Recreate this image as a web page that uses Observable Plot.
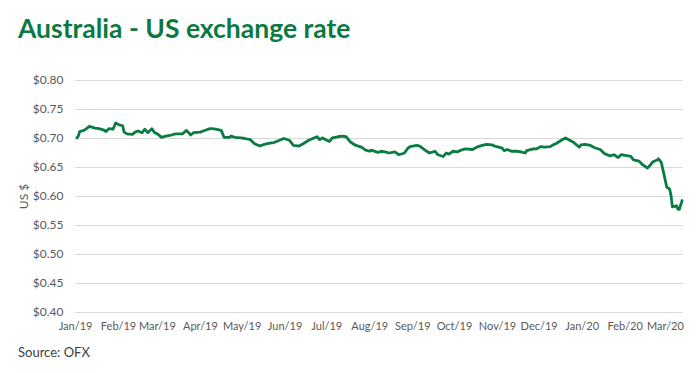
<!DOCTYPE html>
<html>
<head>
<meta charset="utf-8">
<script src="https://cdn.jsdelivr.net/npm/d3@7"></script>
<script src="https://cdn.jsdelivr.net/npm/@observablehq/plot@0.6"></script>
<style>
  html, body { margin: 0; padding: 0; background: #fff; }
  #wrap { position: relative; width: 700px; height: 373px; overflow: hidden; font-family: Lato, "Open Sans", sans-serif; }
  #title { position: absolute; left: 18px; top: 12px; font-size: 26.5px; font-weight: 700; color: #0b7a3f; white-space: nowrap; }
  #source { position: absolute; left: 18px; top: 344px; font-size: 13px; color: #404040; white-space: nowrap; }
  #chart { position: absolute; left: 0; top: 0; }
</style>
</head>
<body>
<div id="wrap">
  <div id="chart"></div>
  <div id="title">Australia - US exchange rate</div>
  <div id="source">Source: OFX</div>
</div>
<script>
const dates = [
  "2019-01-02","2019-01-03","2019-01-04","2019-01-07","2019-01-09","2019-01-11","2019-01-15","2019-01-18","2019-01-21","2019-01-23",
  "2019-01-25","2019-01-28","2019-01-30","2019-02-01","2019-02-04","2019-02-05","2019-02-07","2019-02-11","2019-02-13","2019-02-15",
  "2019-02-18","2019-02-20","2019-02-22","2019-02-25","2019-02-27","2019-03-01","2019-03-04","2019-03-07","2019-03-11","2019-03-14",
  "2019-03-19","2019-03-22","2019-03-25","2019-03-27","2019-04-01","2019-04-03","2019-04-08","2019-04-09","2019-04-12","2019-04-16",
  "2019-04-18","2019-04-22","2019-04-23","2019-04-26","2019-04-30","2019-05-03","2019-05-07","2019-05-10","2019-05-14","2019-05-17",
  "2019-05-21","2019-05-24","2019-05-28","2019-05-31","2019-06-04","2019-06-07","2019-06-11","2019-06-14","2019-06-18","2019-06-21",
  "2019-06-24","2019-06-26","2019-06-28","2019-07-01","2019-07-03","2019-07-05","2019-07-09","2019-07-12","2019-07-15","2019-07-18",
  "2019-07-22","2019-07-26","2019-07-29","2019-08-01","2019-08-02","2019-08-07","2019-08-09","2019-08-12","2019-08-15","2019-08-19",
  "2019-08-22","2019-08-26","2019-08-28","2019-08-30","2019-09-04","2019-09-06","2019-09-11","2019-09-13","2019-09-17","2019-09-19",
  "2019-09-23","2019-09-25","2019-09-27","2019-09-30","2019-10-03","2019-10-07","2019-10-09","2019-10-14","2019-10-17","2019-10-21",
  "2019-10-24","2019-10-28","2019-10-30","2019-11-04","2019-11-06","2019-11-08","2019-11-11","2019-11-15","2019-11-18","2019-11-21",
  "2019-11-22","2019-11-27","2019-11-29","2019-12-02","2019-12-05","2019-12-09","2019-12-11","2019-12-13","2019-12-17","2019-12-20",
  "2019-12-23","2019-12-26","2019-12-30","2019-12-31","2020-01-03","2020-01-07","2020-01-10","2020-01-14","2020-01-17","2020-01-21",
  "2020-01-24","2020-01-27","2020-01-29","2020-02-03","2020-02-05","2020-02-07","2020-02-11","2020-02-13","2020-02-17","2020-02-19",
  "2020-02-21","2020-02-24","2020-02-25","2020-02-27","2020-02-28","2020-03-02","2020-03-04","2020-03-05","2020-03-06","2020-03-09",
  "2020-03-10","2020-03-11","2020-03-13"
];
const rates = [
  0.701,0.704,0.712,0.714,0.717,0.721,0.718,0.717,0.715,0.712,
  0.717,0.716,0.727,0.724,0.722,0.711,0.708,0.707,0.711,0.713,
  0.710,0.716,0.710,0.717,0.710,0.708,0.702,0.704,0.706,0.708,
  0.708,0.714,0.706,0.710,0.711,0.713,0.717,0.717,0.716,0.714,
  0.702,0.702,0.704,0.702,0.701,0.700,0.698,0.691,0.687,0.690,
  0.692,0.693,0.697,0.700,0.697,0.688,0.687,0.691,0.697,0.700,
  0.703,0.698,0.701,0.697,0.695,0.701,0.703,0.704,0.703,0.694,
  0.688,0.685,0.680,0.678,0.680,0.676,0.678,0.677,0.675,0.677,
  0.672,0.675,0.682,0.686,0.688,0.687,0.678,0.675,0.678,0.672,
  0.669,0.675,0.673,0.678,0.677,0.681,0.682,0.681,0.685,0.688,
  0.690,0.689,0.687,0.684,0.679,0.681,0.678,0.678,0.677,0.675,
  0.679,0.682,0.682,0.686,0.685,0.686,0.689,0.691,0.697,0.701,
  0.697,0.693,0.685,0.689,0.690,0.688,0.684,0.681,0.674,0.670,
  0.672,0.667,0.672,0.670,0.669,0.663,0.661,0.656,0.649,0.654,
  0.660,0.663,0.665,0.659,0.648,0.616,0.613,0.602,0.582,0.584,
  0.578,0.578,0.593
];
const monthTicks = [
  "2019-01-01","2019-02-01","2019-03-01","2019-04-01","2019-05-01","2019-06-01","2019-07-01","2019-08-01",
  "2019-09-01","2019-10-01","2019-11-01","2019-12-01","2020-01-01","2020-02-01","2020-03-01"
];
const yTicks = [0.40, 0.45, 0.50, 0.55, 0.60, 0.65, 0.70, 0.75, 0.80];
const xDomain = ["2019-01-01", "2020-03-14"];

const data = dates.map((d, i) => ({date: new Date(d), rate: rates[i]}));
const fmtMonth = d3.utcFormat("%b/%y");

const chart = Plot.plot({
  width: 700,
  height: 373,
  marginLeft: 75,
  marginRight: 17,
  marginTop: 80,
  marginBottom: 61,
  style: {fontFamily: "Lato, 'Open Sans', sans-serif", fontSize: "11.5px", color: "#595959", background: "transparent"},
  x: {type: "utc", domain: xDomain.map(d => new Date(d))},
  y: {domain: [0.40, 0.80]},
  marks: [
    Plot.ruleY(yTicks, {stroke: "#d9d9d9", strokeWidth: 1}),
    Plot.axisY({ticks: yTicks, tickSize: 0, tickPadding: 12, tickFormat: d => "$" + d.toFixed(2),
      label: "US $", labelAnchor: "center", labelArrow: "none", labelOffset: 56, fontSize: 12}),
    Plot.axisX({ticks: monthTicks.map(d => new Date(d)), tickSize: 0, tickPadding: 10, tickFormat: fmtMonth, label: null, fontSize: 11}),
    Plot.lineY(data, {x: "date", y: "rate", stroke: "#0a7c43", strokeWidth: 2.8, strokeLinejoin: "round", curve: "linear"})
  ]
});
document.getElementById("chart").appendChild(chart);
</script>
</body>
</html>
